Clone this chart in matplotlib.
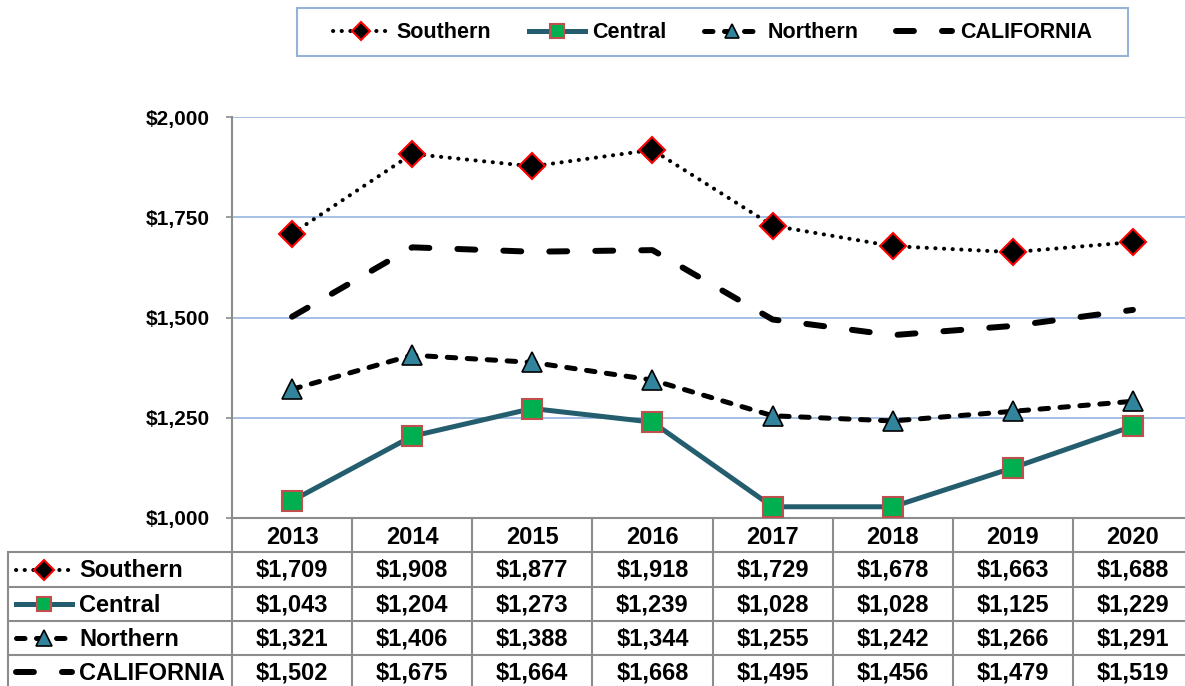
import matplotlib.pyplot as plt
from matplotlib.lines import Line2D
from matplotlib.patches import Rectangle
import numpy as np

plt.rcParams['font.family'] = ['Liberation Sans', 'DejaVu Sans']
plt.rcParams['font.weight'] = 'bold'

years = ['2013', '2014', '2015', '2016', '2017', '2018', '2019', '2020']
southern = [1709, 1908, 1877, 1918, 1729, 1678, 1663, 1688]
central = [1043, 1204, 1273, 1239, 1028, 1028, 1125, 1229]
northern = [1321, 1406, 1388, 1344, 1255, 1242, 1266, 1291]
california = [1502, 1675, 1664, 1668, 1495, 1456, 1479, 1519]
y_ticks = [1000, 1250, 1500, 1750, 2000]

GRID = '#9DBBE1'
RULE = '#8C8C8C'

# line styles for each region (shared by plot, legend and table keys)
styles = {
    'Southern': dict(color='black', lw=2.9, linestyle=(0, (0.05, 2.1)),
                     dash_capstyle='round', marker='D', ms=13,
                     mfc='black', mec='#FF0000', mew=1.5),
    'Central': dict(color='#245E6E', lw=3.6, linestyle='-',
                    marker='s', ms=14, mfc='#00B050', mec='#C0504D', mew=1.5),
    'Northern': dict(color='black', lw=3.6, linestyle=(0, (1.7, 2.3)),
                     dash_capstyle='round', marker='^', ms=15,
                     mfc='#31849B', mec='black', mew=1.2),
    'CALIFORNIA': dict(color='black', lw=4.3, linestyle=(0, (3.0, 4.7)),
                       dash_capstyle='round', marker=None),
}
series = {'Southern': southern, 'Central': central,
          'Northern': northern, 'CALIFORNIA': california}
draw_order = ['CALIFORNIA', 'Northern', 'Central', 'Southern']
row_order = ['Southern', 'Central', 'Northern', 'CALIFORNIA']

W, H = 1185, 686
fig = plt.figure(figsize=(W / 100, H / 100), dpi=100)

# plot area in pixel terms
px_left, px_right, px_top, px_bottom = 232, 1193, 117, 518
ax = fig.add_axes([px_left / W, 1 - px_bottom / H,
                   (px_right - px_left) / W, (px_bottom - px_top) / H])

x = np.arange(len(years))
for name in draw_order:
    st = dict(styles[name])
    ax.plot(x, series[name], label=name, zorder=3 + draw_order.index(name), **st)

ax.set_xlim(-0.5, len(years) - 0.5)
ax.set_ylim(1000, 2000)
ax.set_yticks(y_ticks)
ax.set_yticklabels(['${:,}'.format(v) for v in y_ticks], fontsize=15, fontweight='bold')
ax.yaxis.grid(True, color=GRID, lw=1.3)
ax.set_axisbelow(True)
ax.tick_params(axis='y', length=4, width=1.2, color=RULE, pad=12)

# year headers with cell dividers drawn as long minor ticks
ax.set_xticks(x)
ax.set_xticklabels(years, fontsize=17, fontweight='bold')
ax.tick_params(axis='x', which='major', length=0, pad=6)
ax.set_xticks(np.arange(-0.5, len(years)), minor=True)
ax.tick_params(axis='x', which='minor', length=24.5, width=1.5, color=RULE, direction='out')

for side in ['top', 'right']:
    ax.spines[side].set_visible(False)
for side in ['left', 'bottom']:
    ax.spines[side].set_color(RULE)
    ax.spines[side].set_linewidth(1.5)

# data table below the chart, laid out in pixel coordinates
tab = fig.add_axes([0, 0, 1, 1], zorder=5)
tab.set_xlim(0, W)
tab.set_ylim(H, 0)
tab.axis('off')
tab.patch.set_visible(False)

col_w = (px_right - px_left) / len(years)
row_lines = [552, 587, 621, 655, 689]
table_left = 8
for yl in row_lines:
    tab.plot([table_left, px_right], [yl, yl], color=RULE, lw=1.5, solid_capstyle='butt')
tab.plot([table_left, table_left], [row_lines[0], row_lines[-1]], color=RULE, lw=1.5)
for i in range(len(years) + 1):
    xv = px_left + i * col_w
    tab.plot([xv, xv], [row_lines[0], row_lines[-1]], color=RULE, lw=1.5)

for r, name in enumerate(row_order):
    yc = (row_lines[r] + row_lines[r + 1]) / 2
    st = dict(styles[name])
    st.pop('marker', None)
    ms = st.pop('ms', None)
    mfc = st.pop('mfc', None)
    mec = st.pop('mec', None)
    mew = st.pop('mew', None)
    tab.plot([16, 72], [yc, yc], **st)
    if styles[name]['marker']:
        tab.plot([44], [yc], linestyle='none', marker=styles[name]['marker'],
                 ms=ms * 0.75, mfc=mfc, mec=mec, mew=mew)
    tab.text(79, yc + 1, name, fontsize=17, fontweight='bold', ha='left', va='center')
    for i, v in enumerate(series[name]):
        tab.text(px_left + (i + 0.5) * col_w, yc + 1, '${:,}'.format(v),
                 fontsize=17, fontweight='bold', ha='center', va='center')

# legend across the top, with its own box
tab.add_patch(Rectangle((297, 8), 1128 - 297, 48, fill=False,
                        edgecolor='#95B3D7', lw=1.5))
handles = []
for name in row_order:
    st = dict(styles[name])
    if st.get('ms'):
        st['ms'] = st['ms'] * 0.7
    handles.append(Line2D([], [], **st))
leg = fig.legend(handles, row_order, loc='center', ncol=4,
                 bbox_to_anchor=((297 + 1128) / 2 / W, 1 - 33 / H),
                 prop={'size': 15.5, 'weight': 'bold'}, frameon=False,
                 handlelength=2.6, handletextpad=0.35, columnspacing=1.75,
                 borderpad=0.5, numpoints=1)

fig.savefig('out.png', dpi=100)
